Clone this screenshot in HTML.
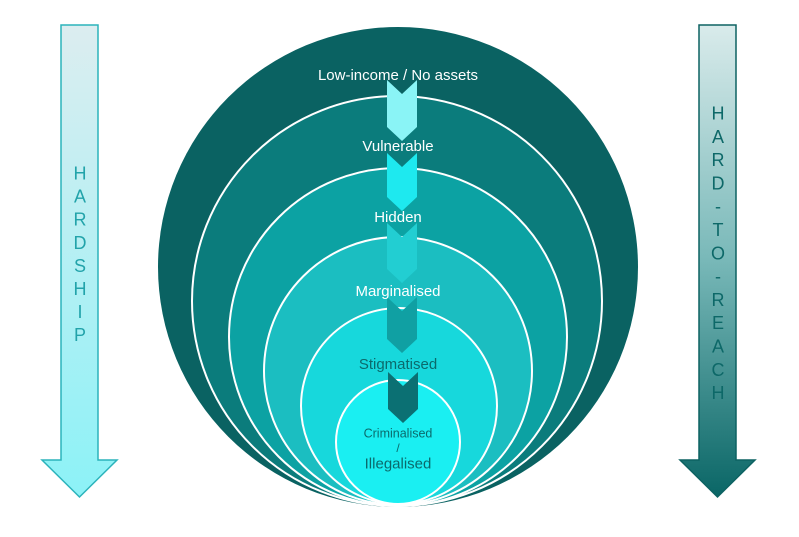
<!DOCTYPE html>
<html>
<head>
<meta charset="utf-8">
<style>
  html, body { margin:0; padding:0; background:#ffffff; }
  body { width:799px; height:537px; overflow:hidden; }
  svg { display:block; }
  text { font-family: "Liberation Sans", Arial, sans-serif; }
</style>
</head>
<body>
<svg width="799" height="537" viewBox="0 0 799 537" xmlns="http://www.w3.org/2000/svg">
  <defs>
    <linearGradient id="gl" x1="0" y1="0" x2="0" y2="1">
      <stop offset="0" stop-color="#dcedf0"/>
      <stop offset="1" stop-color="#8cf2f7"/>
    </linearGradient>
    <linearGradient id="gr" x1="0" y1="0" x2="0" y2="1">
      <stop offset="0" stop-color="#d9ebeb"/>
      <stop offset="0.5" stop-color="#78b8b8"/>
      <stop offset="1" stop-color="#0a6666"/>
    </linearGradient>
  </defs>

  <!-- Left arrow -->
  <polygon points="61,25 98,25 98,460 117,460 79.5,497 42,460 61,460" fill="url(#gl)" stroke="#2bb3bb" stroke-width="1.5"/>
  <g fill="#22a3aa" font-size="18" text-anchor="middle">
    <text x="80" y="179.5">H</text>
    <text x="80" y="202.6">A</text>
    <text x="80" y="225.7">R</text>
    <text x="80" y="248.8">D</text>
    <text x="80" y="271.9">S</text>
    <text x="80" y="295">H</text>
    <text x="80" y="318.1">I</text>
    <text x="80" y="341.2">P</text>
  </g>

  <!-- Right arrow -->
  <polygon points="699,25 736,25 736,460 755,460 717.5,497 680,460 699,460" fill="url(#gr)" stroke="#0d6262" stroke-width="1.5"/>
  <g fill="#0d6868" font-size="18" text-anchor="middle">
    <text x="718" y="119.5">H</text>
    <text x="718" y="142.8">A</text>
    <text x="718" y="166.1">R</text>
    <text x="718" y="189.4">D</text>
    <text x="718" y="212.7">-</text>
    <text x="718" y="236">T</text>
    <text x="718" y="259.3">O</text>
    <text x="718" y="282.6">-</text>
    <text x="718" y="305.9">R</text>
    <text x="718" y="329.2">E</text>
    <text x="718" y="352.5">A</text>
    <text x="718" y="375.8">C</text>
    <text x="718" y="399.1">H</text>
  </g>

  <!-- Concentric circles tangent at bottom -->
  <circle cx="398" cy="267" r="240" fill="#0a6262"/>
  <circle cx="397" cy="301" r="205" fill="#0b7c7c" stroke="#ffffff" stroke-width="2"/>
  <circle cx="398" cy="337" r="169" fill="#0ca2a3" stroke="#ffffff" stroke-width="2"/>
  <circle cx="398" cy="371" r="134" fill="#1bbec1" stroke="#ffffff" stroke-width="2"/>
  <circle cx="399" cy="406" r="98" fill="#17d8dc" stroke="#ffffff" stroke-width="2"/>
  <circle cx="398" cy="442" r="62" fill="#1aeff2" stroke="#ffffff" stroke-width="2"/>

  <!-- Chevrons -->
  <polygon points="387,80 402,94 417,80 417,127 402,141 387,127" fill="#8af4f6"/>
  <polygon points="387,153 402,167 417,153 417,197 402,211 387,197" fill="#1ee9ef"/>
  <polygon points="387,223 402,237 417,223 417,269 402,283 387,269" fill="#22ced2"/>
  <polygon points="387,297 402,311 417,297 417,339 402,353 387,339" fill="#10a0a3"/>
  <polygon points="388,372 403,386 418,372 418,409 403,423 388,409" fill="#0b7073"/>

  <!-- Labels -->
  <g font-size="15" text-anchor="middle">
    <text x="398" y="80" fill="#ffffff">Low-income / No assets</text>
    <text x="398" y="151" fill="#ffffff">Vulnerable</text>
    <text x="398" y="222" fill="#ffffff">Hidden</text>
    <text x="398" y="296" fill="#ffffff">Marginalised</text>
    <text x="398" y="369" fill="#0b6a6c">Stigmatised</text>
    <text x="398" y="437.5" fill="#0b6a6c" font-size="12.5">Criminalised</text>
    <text x="398" y="452" fill="#0b6a6c" font-size="12">/</text>
    <text x="398" y="468.5" fill="#0b6a6c">Illegalised</text>
  </g>
</svg>
</body>
</html>
